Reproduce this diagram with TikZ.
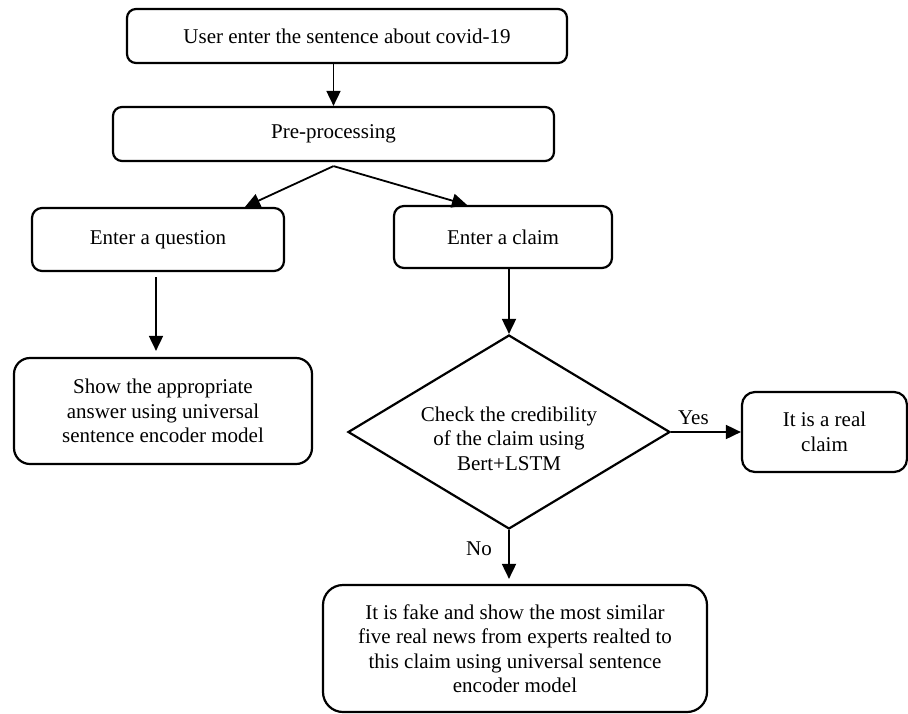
\documentclass[tikz,border=0pt]{standalone}
\usepackage{fontspec}
\setmainfont{Liberation Serif}
\usetikzlibrary{shapes.geometric}
\usetikzlibrary{arrows.meta}

\begin{document}
\begin{tikzpicture}[x=1pt, y=-1pt,
  box/.style={draw, line width=2.2pt, align=center, inner sep=0pt, font=\fontsize{21}{24.5}\selectfont},
  lbl/.style={font=\fontsize{21}{24.5}\selectfont},
  arr/.style={line width=1.8pt, -{Triangle[length=15pt,width=14pt]}}]
\useasboundingbox (0,0) rectangle (908,713);
\node[box, anchor=center, rounded corners=9pt, minimum width=440pt, minimum height=54pt] (user) at (347,36) {User enter the sentence about covid-19};
\node[box, anchor=center, rounded corners=9pt, minimum width=441pt, minimum height=54pt] (pre) at (333.5,134) {Pre-processing};
\node[box, anchor=center, rounded corners=10pt, minimum width=252pt, minimum height=63pt] (question) at (158,239.5) {Enter a question};
\node[box, anchor=center, rounded corners=10pt, minimum width=218pt, minimum height=62pt] (claim) at (503,237) {Enter a claim};
\node[box, anchor=center, rounded corners=16pt, minimum width=298pt, minimum height=106pt] (answer) at (163,411) {Show the appropriate\\answer using universal\\sentence encoder model};
\node[box, anchor=center, diamond, aspect=1.66, minimum width=322pt, minimum height=194pt] (check) at (509,432) {\rule{0pt}{28pt}Check the credibility\\of the claim using\\Bert+LSTM};
\node[box, anchor=center, rounded corners=13pt, minimum width=165pt, minimum height=80pt] (real) at (824.5,432) {It is a real\\claim};
\node[box, anchor=center, rounded corners=20pt, minimum width=384pt, minimum height=127pt] (fake) at (515,648.5) {It is fake and show the most similar\\five real news from experts realted to\\this claim using universal sentence\\encoder model};
\coordinate (split) at ([yshift=-4pt]pre.south);

\draw[arr] (pre.north |- user.south) -- (pre.north);
\draw[arr] (split) -- ([xshift=87pt]question.north);
\draw[arr] (split) -- ([xshift=-36pt]claim.north);
\draw[arr, shorten <=5pt, shorten >=6pt] ([xshift=-2pt]question.south) -- ([xshift=-2pt]question.south |- answer.north);
\draw[arr] (claim.south -| check.north) -- (check.north);
\draw[arr] (check.east) -- (real.west) node[lbl, pos=0.32, above, yshift=3pt] {Yes};
\draw[arr, shorten >=5pt] (check.south) -- (check.south |- fake.north) node[lbl, pos=0.35, left, xshift=-13pt] {No};
\end{tikzpicture}
\end{document}
